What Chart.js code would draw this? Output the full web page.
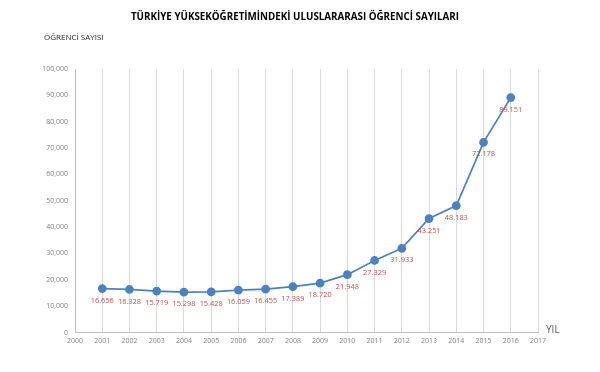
<!DOCTYPE html>
<html>
<head>
<meta charset="utf-8">
<script src="https://cdn.jsdelivr.net/npm/chart.js@4"></script>
<style>
  html, body { margin: 0; padding: 0; background: #fff; }
  #wrap { width: 600px; height: 372px; }
</style>
</head>
<body>
<div id="wrap"><canvas id="Chart" width="600" height="372"></canvas></div>
<script>
var years = [2001, 2002, 2003, 2004, 2005, 2006, 2007, 2008, 2009, 2010, 2011, 2012, 2013, 2014, 2015, 2016];
var students = [16656, 16328, 15719, 15298, 15428, 16059, 16455, 17389, 18720, 21948, 27329, 31933, 43251, 48183, 72178, 89151];
var labels = ['16.656', '16.328', '15.719', '15.298', '15.428', '16.059', '16.455', '17.389', '18.720', '21.948', '27.329', '31.933', '43.251', '48.183', '72.178', '89.151'];

var chartTitle = 'TÜRKİYE YÜKSEKÖĞRETİMİNDEKİ ULUSLARARASI ÖĞRENCİ SAYILARI';
var yTitle = 'ÖĞRENCİ SAYISI';
var xTitle = 'YIL';

var points = years.map(function (y, i) { return { x: y, y: students[i] }; });

// texts and value labels
var textPlugin = {
  id: 'texts',
  afterDatasetsDraw: function (chart) {
    var c = chart.ctx;
    c.save();
    c.textBaseline = 'middle';
    c.fillStyle = '#000';
    c.font = 'bold 9.8px "Open Sans"';
    c.textAlign = 'center';
    c.fillText(chartTitle, 295, 17);
    c.font = '8px "Open Sans"';
    c.textAlign = 'left';
    c.fillStyle = '#262626';
    c.fillText(yTitle, 44, 38);
    c.font = '10px "Open Sans"';
    c.fillStyle = '#595959';
    c.fillText(xTitle, 546, 330);

    var meta = chart.getDatasetMeta(0);
    c.font = '7.4px "Open Sans"';
    c.fillStyle = '#c0504d';
    c.textAlign = 'center';
    meta.data.forEach(function (pt, i) {
      c.fillText(labels[i], pt.x, pt.y + 12);
    });
    c.restore();
  }
};

var ctx = document.getElementById('Chart').getContext('2d');
var myChart = new Chart(ctx, {
  type: 'line',
  data: {
    datasets: [{
      data: points,
      borderColor: '#4f81bd',
      backgroundColor: '#4f81bd',
      borderWidth: 1.75,
      pointRadius: 3.5,
      pointHoverRadius: 3.5,
      tension: 0
    }]
  },
  options: {
    responsive: false,
    animation: false,
    events: [],
    layout: { padding: { left: 0, right: 62, top: 69, bottom: 0 } },
    plugins: {
      legend: { display: false },
      title: { display: false },
      tooltip: { enabled: false }
    },
    scales: {
      x: {
        type: 'linear',
        min: 2000,
        max: 2017,
        afterFit: function (s) { s.height = 39.5; },
        ticks: {
          stepSize: 1,
          padding: 4,
          color: '#7f7f7f',
          font: { family: 'Open Sans', size: 7 },
          callback: function (v) { return String(v); }
        },
        grid: { color: '#d9d9d9', lineWidth: 1, drawTicks: false },
        border: { color: '#bfbfbf', width: 1 }
      },
      y: {
        min: 0,
        max: 100000,
        afterFit: function (s) { s.width = 75; },
        ticks: {
          stepSize: 10000,
          padding: 7,
          color: '#7f7f7f',
          font: { family: 'Open Sans', size: 7 },
          callback: function (v) { return v.toLocaleString('en-US'); }
        },
        grid: { display: false, drawTicks: false },
        border: { color: '#bfbfbf', width: 1 }
      }
    }
  },
  plugins: [textPlugin]
});
</script>
</body>
</html>
